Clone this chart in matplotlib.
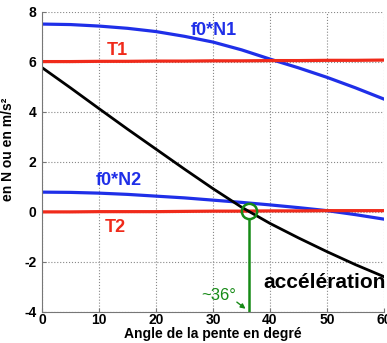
import numpy as np
import matplotlib
matplotlib.use('Agg')
import matplotlib.pyplot as plt

plt.rcParams['font.family'] = ['Liberation Sans', 'DejaVu Sans']
plt.rcParams['font.weight'] = 'bold'
plt.rcParams['axes.labelweight'] = 'bold'

# angle de la pente (degres)
angle = [0, 5, 10, 15, 20, 25, 30, 35, 40, 45, 50, 55, 60]
f0_N1 = [7.50, 7.48, 7.42, 7.33, 7.20, 7.01, 6.78, 6.47, 6.10, 5.75, 5.37, 4.95, 4.50]
T1 = [6.00, 6.00, 6.01, 6.01, 6.02, 6.02, 6.03, 6.03, 6.04, 6.04, 6.05, 6.05, 6.06]
f0_N2 = [0.78, 0.77, 0.74, 0.69, 0.62, 0.55, 0.46, 0.37, 0.27, 0.16, 0.04, -0.12, -0.30]
T2 = [-0.01, -0.01, 0.00, 0.00, 0.00, 0.01, 0.02, 0.02, 0.03, 0.03, 0.04, 0.04, 0.04]
acceleration = [5.76, 4.95, 4.12, 3.30, 2.50, 1.70, 0.92, 0.18, -0.47, -1.05, -1.60, -2.12, -2.60]

angle_eq = 36.3

fig = plt.figure(figsize=(3.87, 3.43), dpi=100)
ax = fig.add_axes([0.1085, 0.0913, 0.8837, 0.875])

ax.plot(angle, f0_N1, color='#1f2fe8', lw=2.3)
ax.plot(angle, T1, color='#f02a1a', lw=2.3)
ax.plot(angle, f0_N2, color='#1f2fe8', lw=2.3)
ax.plot(angle, T2, color='#f02a1a', lw=2.3)
ax.plot(angle, acceleration, color='black', lw=2.0)

# point d'equilibre
g = '#168a16'
ax.plot([angle_eq], [0.02], 'o', ms=11, mfc='none', mec=g, mew=1.8)
ax.plot([angle_eq, angle_eq], [-0.3, -4], color=g, lw=1.8)
ax.annotate('', xy=(36.1, -3.95), xytext=(33.8, -3.55),
            arrowprops=dict(arrowstyle='-|>', color=g, lw=1, mutation_scale=7))
ax.text(31.0, -3.35, '~36°', color=g, fontsize=12, fontweight='normal',
        ha='center', va='center')

ax.text(30.2, 7.24, 'f0*N1', color='#1f2fe8', fontsize=13, ha='center', va='center')
ax.text(13.2, 6.45, 'T1', color='#f02a1a', fontsize=13, ha='center', va='center')
ax.text(13.5, 1.25, 'f0*N2', color='#1f2fe8', fontsize=13, ha='center', va='center')
ax.text(12.9, -0.63, 'T2', color='#f02a1a', fontsize=13, ha='center', va='center')
ax.text(49.6, -2.85, 'accélération', color='black', fontsize=15, ha='center', va='center')

ax.set_xlim(0, 60)
ax.set_ylim(-4, 8)
ax.grid(True, linestyle=':', color='#888888', lw=0.8)
ax.spines['top'].set_visible(False)
ax.spines['right'].set_visible(False)
ax.spines['left'].set_color('#777777')
ax.spines['bottom'].set_color('#777777')
ax.tick_params(direction='in', length=3, color='#777777')
ax.tick_params(axis='x', pad=1)
ax.tick_params(axis='y', pad=4)
ax.set_xticks(range(0, 61, 10))
ax.set_yticks(range(-4, 9, 2))
ax.set_xticklabels([str(v) for v in range(0, 61, 10)], fontweight='bold', fontsize=10)
ax.set_yticklabels([str(v) for v in range(-4, 9, 2)], fontweight='bold', fontsize=10)

ax.set_xlabel('Angle de la pente en degré', fontsize=10, fontweight='bold', labelpad=0)
ax.set_ylabel('en N ou en m/s²', fontsize=10, fontweight='bold')
ax.yaxis.set_label_coords(-0.078, 0.54)

fig.savefig('out.png', dpi=100)
